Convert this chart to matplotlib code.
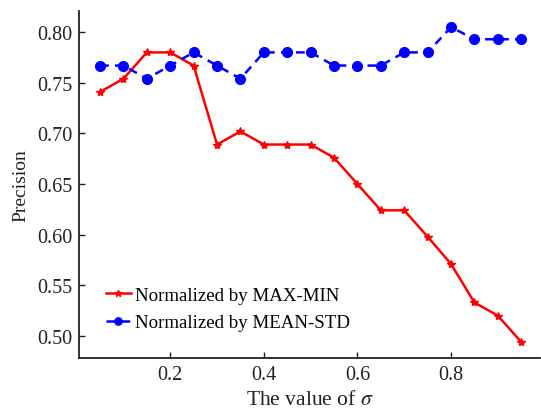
import matplotlib
matplotlib.use("Agg")
import matplotlib.pyplot as plt

sigma = [0.05, 0.10, 0.15, 0.20, 0.25, 0.30, 0.35, 0.40, 0.45, 0.50,
         0.55, 0.60, 0.65, 0.70, 0.75, 0.80, 0.85, 0.90, 0.95]
maxmin = [0.741, 0.754, 0.780, 0.780, 0.767, 0.689, 0.702, 0.689, 0.689, 0.689,
          0.676, 0.650, 0.624, 0.624, 0.598, 0.571, 0.533, 0.520, 0.494]
meanstd = [0.767, 0.767, 0.754, 0.767, 0.780, 0.767, 0.754, 0.780, 0.780, 0.780,
           0.767, 0.767, 0.767, 0.780, 0.780, 0.805, 0.793, 0.793, 0.793]
xticks = [0.2, 0.4, 0.6, 0.8]
yticks = [0.50, 0.55, 0.60, 0.65, 0.70, 0.75, 0.80]

plt.rcParams['font.family'] = ['Liberation Serif', 'DejaVu Serif']
plt.rcParams['mathtext.fontset'] = 'stix'

fig = plt.figure(figsize=(5.41, 4.10), dpi=100)
ax = fig.add_axes([0.146, 0.124, 0.852, 0.847])

ax.plot(sigma, maxmin, color='#ff0000', lw=1.8, marker='*', ms=6,
        label='Normalized by MAX-MIN')
ax.plot(sigma, meanstd, color='#0000ff', lw=1.8, ls=(0, (3.5, 2.5)), marker='o', ms=7,
        label='Normalized by MEAN-STD')

ax.set_xlim(0.005, 0.99)
ax.set_ylim(0.478, 0.821)
ax.set_xticks(xticks)
ax.set_xticklabels([f'{v:.1f}' for v in xticks])
ax.set_yticks(yticks)
ax.set_yticklabels([f'{v:.2f}' for v in yticks])
ax.tick_params(direction='in', length=4, width=1, labelsize=14.5, colors='#222222', pad=5)
for s in ['top', 'right']:
    ax.spines[s].set_visible(False)
for s in ['left', 'bottom']:
    ax.spines[s].set_linewidth(1.3)
    ax.spines[s].set_color('#222222')

ax.set_xlabel(r'The value of $\sigma$', fontsize=15.5, color='#222222', labelpad=4)
ax.set_ylabel('Precision', fontsize=14, color='#222222', labelpad=5)

ax.legend(loc='center left', bbox_to_anchor=(0.0586, 0.142), frameon=False,
          borderpad=0, borderaxespad=0, markerscale=0.75,
          fontsize=13.6, handlelength=1.3, handletextpad=0.25, labelspacing=0.55)

fig.savefig('out.png', dpi=100)
